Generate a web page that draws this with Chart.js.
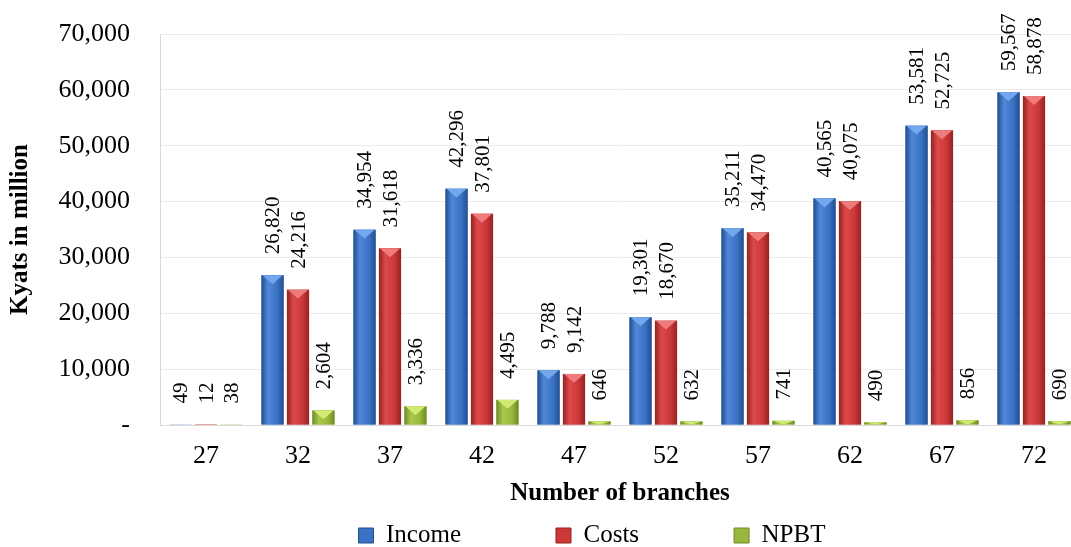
<!DOCTYPE html>
<html>
<head>
<meta charset="utf-8">
<script src="https://cdn.jsdelivr.net/npm/chart.js@4/dist/chart.umd.min.js"></script>
<style>
html, body { margin: 0; padding: 0; background: #fff; overflow: hidden; }
#wrap { width: 1082px; height: 547px; }
</style>
</head>
<body>
<div id="wrap"><canvas id="chart"></canvas></div>
<script>
const branches = ["27", "32", "37", "42", "47", "52", "57", "62", "67", "72"]
const income = [49, 26820, 34954, 42296, 9788, 19301, 35211, 40565, 53581, 59567]
const costs = [12, 24216, 31618, 37801, 9142, 18670, 34470, 40075, 52725, 58878]
const npbt = [38, 2604, 3336, 4495, 646, 632, 741, 490, 856, 690]
const seriesNames = ["Income", "Costs", "NPBT"]

const shades = [
    { edge: "#234f8e", mid: "#3a73c6", light: "#4f88d8", top: "#74a8ee" },
    { edge: "#962222", mid: "#cc3737", light: "#dc4a4a", top: "#ee7c7c" },
    { edge: "#6e8a26", mid: "#97b83c", light: "#a9c94c", top: "#d3ea72" }
]

const serif = "'Liberation Serif', 'Times New Roman', serif"
const legendGap = 95

function formatNumber(v) {
    return v.toLocaleString("en-US")
}

// repaint every bar with a soft 3d look, on top of the bars chart.js placed
const barShading = {
    id: "barShading",
    afterDatasetsDraw(chart) {
        let ctx = chart.ctx
        ctx.save()
        chart.data.datasets.forEach((ds, i) => {
            let shade = shades[i]
            chart.getDatasetMeta(i).data.forEach(bar => {
                let left = bar.x - bar.width / 2
                let right = bar.x + bar.width / 2
                let top = Math.min(bar.y, bar.base)
                let bottom = Math.max(bar.y, bar.base)
                if (bottom - top < 1) return
                let grad = ctx.createLinearGradient(left, 0, right, 0)
                grad.addColorStop(0, shade.edge)
                grad.addColorStop(0.3, shade.light)
                grad.addColorStop(0.7, shade.mid)
                grad.addColorStop(1, shade.edge)
                ctx.fillStyle = grad
                ctx.fillRect(left, top, right - left, bottom - top)
                let tip = Math.min(bar.width * 0.4, bottom - top)
                ctx.fillStyle = shade.top
                ctx.beginPath()
                ctx.moveTo(left + 1, top)
                ctx.lineTo(right - 1, top)
                ctx.lineTo(bar.x, top + tip)
                ctx.closePath()
                ctx.fill()
            })
        })
        ctx.restore()
    }
}

// vertical value labels above the bars
const valueLabels = {
    id: "valueLabels",
    afterDatasetsDraw(chart) {
        let ctx = chart.ctx
        ctx.save()
        ctx.font = "21px " + serif
        ctx.fillStyle = "#000"
        ctx.textAlign = "left"
        ctx.textBaseline = "middle"
        chart.data.datasets.forEach((ds, i) => {
            chart.getDatasetMeta(i).data.forEach((bar, j) => {
                ctx.save()
                ctx.translate(bar.x, Math.min(bar.y, bar.base) - 21)
                ctx.rotate(-Math.PI / 2)
                ctx.fillText(formatNumber(ds.data[j]), 0, 1)
                ctx.restore()
            })
        })
        ctx.restore()
    }
}

// legend items sit far apart and a bit right of the middle, like excel
const legendShift = {
    id: "legendShift",
    afterLayout(chart) {
        chart.legend.left += 52
        chart.legend.right += 52
        chart.legend.top = 523 - legendGap
    }
}

function onload() {
    let datasets = [income, costs, npbt].map((values, i) => ({
        label: seriesNames[i],
        data: values,
        backgroundColor: shades[i].mid,
        borderColor: shades[i].edge,
        borderWidth: 0,
        categoryPercentage: 0.83,
        barPercentage: 0.87
    }))

    new Chart(document.getElementById("chart").getContext("2d"), {
        type: "bar",
        data: { labels: branches, datasets: datasets },
        options: {
            responsive: true,
            maintainAspectRatio: false,
            animation: false,
            layout: { padding: { top: 34, right: 2, bottom: 2, left: 0 } },
            plugins: {
                tooltip: { enabled: false },
                legend: {
                    position: "bottom",
                    maxHeight: 36,
                    labels: {
                        font: { family: serif, size: 25 },
                        color: "#000",
                        boxWidth: 15,
                        boxHeight: 15,
                        padding: legendGap,
                        generateLabels: chart => seriesNames.map((name, i) => ({
                            text: name,
                            fillStyle: shades[i].mid,
                            strokeStyle: shades[i].edge,
                            lineWidth: 1,
                            datasetIndex: i
                        }))
                    }
                }
            },
            scales: {
                x: {
                    afterFit: scale => { scale.height = 84 },
                    grid: { display: false },
                    border: { color: "#d9d9d9" },
                    ticks: { font: { family: serif, size: 26 }, color: "#000", padding: 8 },
                    title: {
                        display: true,
                        text: "Number of branches",
                        font: { family: serif, size: 25, weight: "bold" },
                        color: "#000",
                        padding: { top: 10, bottom: 0 }
                    }
                },
                y: {
                    min: 0,
                    max: 70000,
                    afterFit: scale => { scale.width = 160 },
                    grid: { color: "#ececec", drawTicks: true, tickLength: 30, tickColor: "rgba(0,0,0,0)" },
                    border: { color: "#d9d9d9" },
                    ticks: {
                        stepSize: 10000,
                        font: { family: serif, size: 26 },
                        color: "#000",
                        padding: 0,
                        callback: v => v === 0 ? "-" : formatNumber(v)
                    },
                    title: {
                        display: true,
                        text: "Kyats in million",
                        font: { family: serif, size: 25, weight: "bold" },
                        color: "#000",
                        padding: { top: 6, bottom: 0 }
                    }
                }
            }
        },
        plugins: [barShading, valueLabels, legendShift]
    })
}

window.onload = onload()
</script>
</body>
</html>
